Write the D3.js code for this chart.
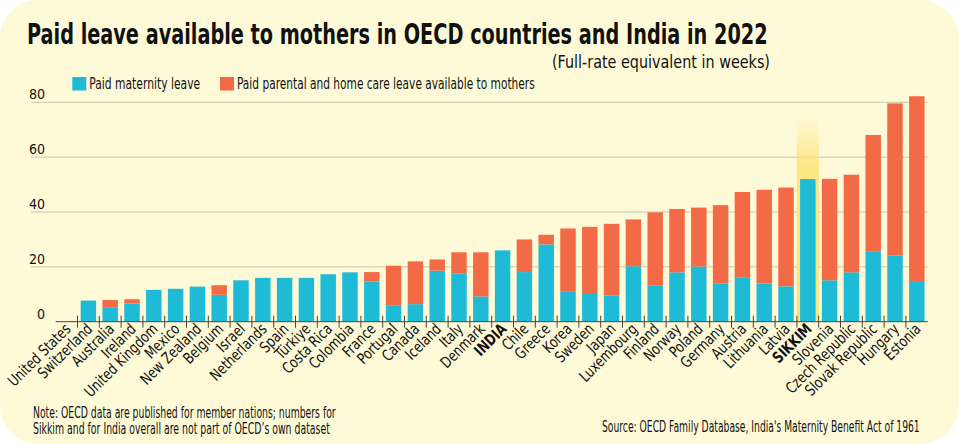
<!DOCTYPE html>
<html>

    <head>
        <meta charset="utf-8">
        <script src="https://d3js.org/d3.v7.min.js"></script>
        <style>
            body { margin: 0; background: #ffffff; }
            text { font-family: "Liberation Sans Narrow", "DejaVu Sans Condensed", "Roboto", sans-serif; fill: #111; }
        </style>
    </head>

    <body>
        <div id="chart-container"></div>

        <script>
            // Data (weeks)
            const countries = [ "United States", "Switzerland", "Australia", "Ireland", "United Kingdom", "Mexico",
                "New Zealand", "Belgium", "Israel", "Netherlands", "Spain", "Türkiye", "Costa Rica", "Colombia",
                "France", "Portugal", "Canada", "Iceland", "Italy", "Denmark", "INDIA", "Chile", "Greece", "Korea",
                "Sweden", "Japan", "Luxembourg", "Finland", "Norway", "Poland", "Germany", "Austria", "Lithuania",
                "Latvia", "SIKKIM", "Slovenia", "Czech Republic", "Slovak Republic", "Hungary", "Estonia" ];
            const maternity = [ 0, 7.7, 5.3, 6.7, 11.6, 12.0, 12.8, 9.8, 15.1, 16.0, 16.0, 16.0, 17.3, 18.0,
                14.7, 6.0, 6.4, 18.6, 17.5, 9.2, 26.0, 18.1, 28.2, 10.9,
                10.1, 9.5, 20.2, 13.1, 18.0, 20.1, 14.0, 16.0, 14.0,
                12.9, 52.0, 15.1, 18.0, 25.5, 24.2, 14.5 ];
            const parental = [ 0, 0, 2.6, 1.5, 0, 0, 0, 3.5, 0, 0, 0, 0, 0, 0,
                3.4, 14.4, 15.6, 4.1, 7.8, 16.1, 0, 11.9, 3.5, 23.1,
                24.5, 26.2, 17.1, 26.8, 23.1, 21.5, 28.5, 31.3, 34.1,
                36.0, 0, 37.0, 35.6, 42.6, 55.4, 67.7 ];
            const yTicks = [ 0, 20, 40, 60, 80 ];
            const boldLabels = [ "INDIA", "SIKKIM" ];
            const seriesNames = [ "Paid maternity leave", "Paid parental and home care leave available to mothers" ];

            const width = 959;
            const height = 444;
            const blue = "#1fbbd6";
            const orange = "#f26b46";

            const svg = d3.select( "#chart-container" )
                .append( "svg" )
                .attr( "width", width )
                .attr( "height", height );

            // squeeze a text horizontally so it spans w pixels, left edge at x
            function fitText( sel, x, y, w )
            {
                const natural = sel.node().getComputedTextLength();
                sel.attr( "transform", `translate(${ x }, ${ y }) scale(${ w / natural }, 1)` );
            }

            // Background panel
            svg.append( "rect" )
                .attr( "x", 0 ).attr( "y", 0 )
                .attr( "width", width ).attr( "height", height )
                .attr( "rx", 38 )
                .attr( "fill", "#fefad8" );

            const defs = svg.append( "defs" );
            const grad = defs.append( "linearGradient" )
                .attr( "id", "glow" )
                .attr( "x1", 0 ).attr( "y1", 0 ).attr( "x2", 0 ).attr( "y2", 1 );
            grad.append( "stop" ).attr( "offset", "0%" ).attr( "stop-color", "#fde37a" ).attr( "stop-opacity", 0 );
            grad.append( "stop" ).attr( "offset", "25%" ).attr( "stop-color", "#fde37a" ).attr( "stop-opacity", 0.9 );
            grad.append( "stop" ).attr( "offset", "100%" ).attr( "stop-color", "#fde37a" ).attr( "stop-opacity", 1 );

            // Scales
            const xScale = d3.scaleBand()
                .domain( countries )
                .range( [ 55.7, 927.7 ] )
                .paddingInner( 0.29 )
                .paddingOuter( 0.145 );

            const yScale = d3.scaleLinear()
                .domain( [ 0, 80 ] )
                .range( [ 321.7, 102.3 ] );

            // Gridlines
            svg.append( "g" )
                .selectAll( "line" )
                .data( yTicks.filter( d => d > 0 ) )
                .enter()
                .append( "line" )
                .attr( "x1", 31 )
                .attr( "x2", 927.7 )
                .attr( "y1", d => yScale( d ) )
                .attr( "y2", d => yScale( d ) )
                .attr( "stroke", "#cbc5ab" )
                .attr( "stroke-width", 1 );

            // y labels
            svg.append( "g" )
                .selectAll( "text" )
                .data( yTicks )
                .enter()
                .append( "text" )
                .attr( "x", 45 )
                .attr( "y", d => yScale( d ) - 3 )
                .attr( "text-anchor", "end" )
                .attr( "font-size", 14 )
                .text( d => d );

            // Sikkim highlight
            const step = xScale.step();
            svg.append( "rect" )
                .attr( "x", xScale( "SIKKIM" ) + xScale.bandwidth() / 2 - 11 )
                .attr( "y", yScale( 75 ) )
                .attr( "width", 22 )
                .attr( "height", yScale( 0 ) - yScale( 75 ) )
                .attr( "fill", "url(#glow)" );

            // Stacked bars
            const rows = countries.map( ( c, i ) => ( { country: c, m: maternity[ i ], p: parental[ i ] } ) );

            svg.append( "g" )
                .selectAll( "rect" )
                .data( rows )
                .enter()
                .append( "rect" )
                .attr( "x", d => xScale( d.country ) )
                .attr( "y", d => yScale( d.m ) )
                .attr( "width", xScale.bandwidth() )
                .attr( "height", d => yScale( 0 ) - yScale( d.m ) )
                .attr( "fill", blue );

            svg.append( "g" )
                .selectAll( "rect" )
                .data( rows.filter( d => d.p > 0 ) )
                .enter()
                .append( "rect" )
                .attr( "x", d => xScale( d.country ) )
                .attr( "y", d => yScale( d.m + d.p ) )
                .attr( "width", xScale.bandwidth() )
                .attr( "height", d => yScale( d.m ) - yScale( d.m + d.p ) )
                .attr( "fill", orange );

            // Baseline and separator ticks
            svg.append( "line" )
                .attr( "x1", 55.7 ).attr( "x2", 927.7 )
                .attr( "y1", yScale( 0 ) ).attr( "y2", yScale( 0 ) )
                .attr( "stroke", "#444" )
                .attr( "stroke-width", 1 );

            svg.append( "g" )
                .selectAll( "line" )
                .data( countries.slice( 1 ) )
                .enter()
                .append( "line" )
                .attr( "x1", d => xScale( d ) - step * 0.145 )
                .attr( "x2", d => xScale( d ) - step * 0.145 )
                .attr( "y1", yScale( 0 ) - 6 )
                .attr( "y2", yScale( 0 ) + 6 )
                .attr( "stroke", "#444" )
                .attr( "stroke-width", 1 );

            // Country labels
            svg.append( "g" )
                .selectAll( "text" )
                .data( countries )
                .enter()
                .append( "text" )
                .attr( "transform", d => `translate(${ xScale( d ) + xScale.bandwidth() / 2 + 5 }, 330) rotate(-45) scale(0.86, 1)` )
                .attr( "text-anchor", "end" )
                .attr( "font-size", 15.5 )
                .attr( "font-weight", d => boldLabels.includes( d ) ? "bold" : "normal" )
                .text( d => d );

            // Title and subtitle
            const title = svg.append( "text" )
                .attr( "font-size", 29 )
                .attr( "font-weight", "bold" )
                .text( "Paid leave available to mothers in OECD countries and India in 2022" );
            fitText( title, 27, 44, 741 );

            const subtitle = svg.append( "text" )
                .attr( "font-size", 17.5 )
                .text( "(Full-rate equivalent in weeks)" );
            fitText( subtitle, 552, 68, 218 );

            // Legend
            const legendX = [ 72.3, 220 ];
            const legendW = [ 111, 298 ];
            const legend = svg.append( "g" )
                .selectAll( "g" )
                .data( seriesNames )
                .enter()
                .append( "g" )
                .attr( "transform", ( d, i ) => `translate(${ legendX[ i ] }, 77)` );
            legend.append( "rect" )
                .attr( "width", 14 ).attr( "height", 13.5 )
                .attr( "fill", ( d, i ) => i === 0 ? blue : orange );
            legend.append( "text" )
                .attr( "font-size", 15 )
                .text( d => d )
                .each( function ( d, i )
                {
                    fitText( d3.select( this ), 17, 11.5, legendW[ i ] );
                } );

            // Notes
            const note1 = svg.append( "text" )
                .attr( "font-size", 15.5 )
                .text( "Note: OECD data are published for member nations; numbers for" );
            fitText( note1, 33, 418, 303 );
            const note2 = svg.append( "text" )
                .attr( "font-size", 15.5 )
                .text( "Sikkim and for India overall are not part of OECD’s own dataset" );
            fitText( note2, 33, 434, 297 );
            const source = svg.append( "text" )
                .attr( "font-size", 15.5 )
                .text( "Source: OECD Family Database, India's Maternity Benefit Act of 1961" );
            fitText( source, 602, 432, 318 );

        </script>
    </body>

</html>
